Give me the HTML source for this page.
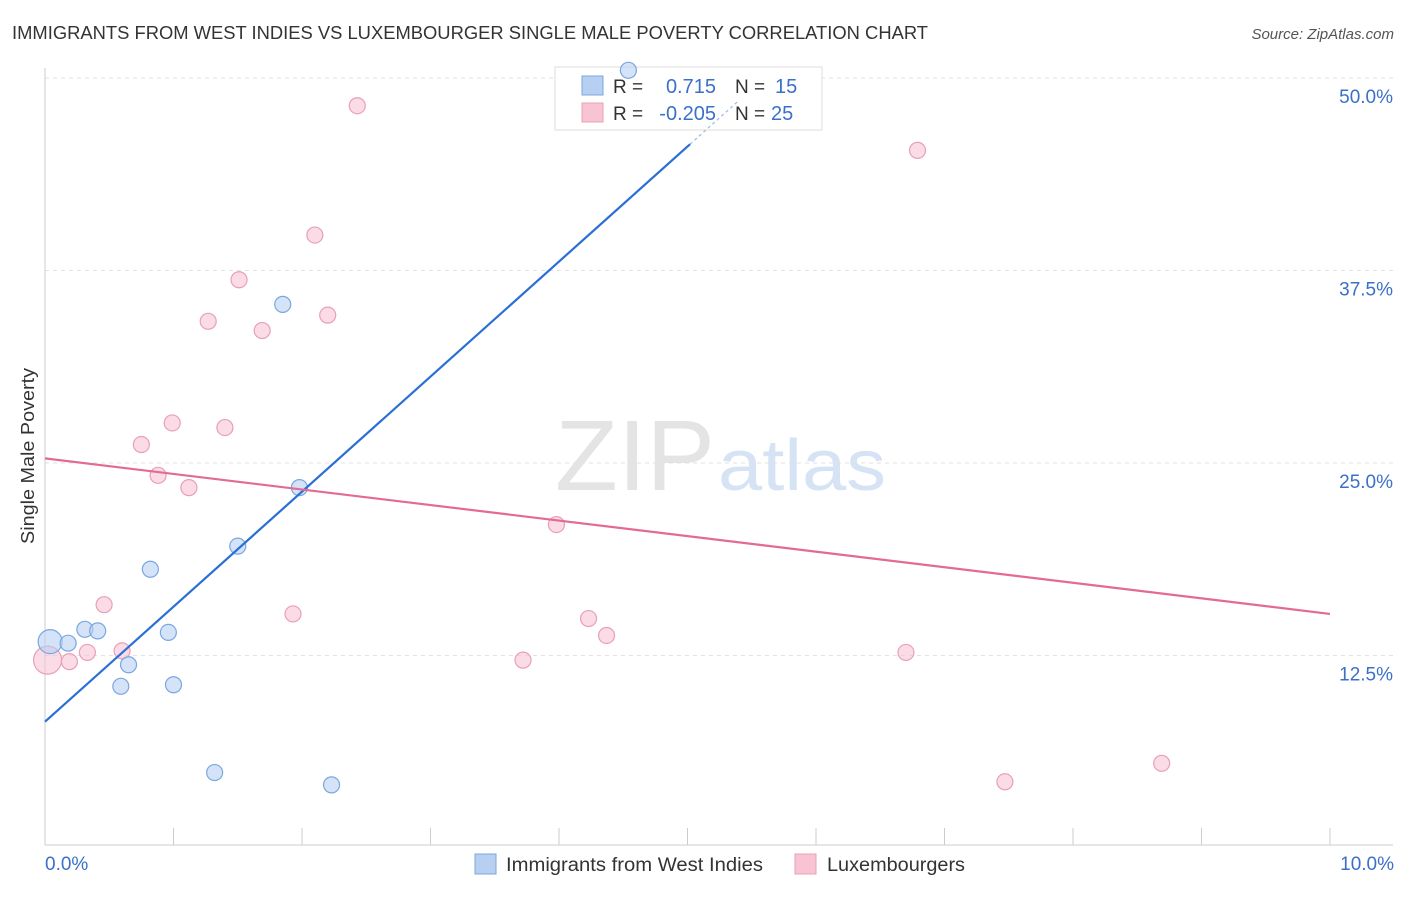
<!DOCTYPE html>
<html><head><meta charset="utf-8"><style>
body{margin:0;background:#fff;font-family:"Liberation Sans",sans-serif;}
svg text{font-family:"Liberation Sans",sans-serif;}
</style></head><body>
<svg id="chart" width="1406" height="892" viewBox="0 0 1406 892" xmlns="http://www.w3.org/2000/svg">
<text x="12" y="39" font-size="18" fill="#333" textLength="916" lengthAdjust="spacingAndGlyphs">IMMIGRANTS FROM WEST INDIES VS LUXEMBOURGER SINGLE MALE POVERTY CORRELATION CHART</text>
<text x="1394" y="39" font-size="15" fill="#555" font-style="italic" text-anchor="end">Source: ZipAtlas.com</text>
<text x="555" y="490" font-size="100" fill="#e4e4e4" font-family="Liberation Serif" textLength="160" lengthAdjust="spacingAndGlyphs">ZIP</text>
<text x="718" y="490" font-size="72" fill="#d6e3f5" textLength="168" lengthAdjust="spacingAndGlyphs">atlas</text>
<g id="grid"></g><g id="axes"></g>
<g>
<rect x="555" y="67" width="267" height="63" fill="#fff" stroke="#ddd"/>
<rect x="582" y="76" width="21" height="19" fill="#b7d0f2" stroke="#7aa7e0"/>
<rect x="582" y="103" width="21" height="19" fill="#f8c3d3" stroke="#eaa0b7"/>
<text x="613" y="93" font-size="19" fill="#333">R =</text><text x="716" y="93" font-size="20" fill="#3a70c8" text-anchor="end">0.715</text>
<text x="735" y="93" font-size="19" fill="#333">N =</text><text x="775" y="93" font-size="20" fill="#3a70c8">15</text>
<text x="613" y="120" font-size="19" fill="#333">R =</text><text x="716" y="120" font-size="20" fill="#3a70c8" text-anchor="end">-0.205</text>
<text x="735" y="120" font-size="19" fill="#333">N =</text><text x="771" y="120" font-size="20" fill="#3a70c8">25</text>
</g>
<g id="marks"></g>
<text transform="translate(34,456) rotate(-90)" font-size="18" fill="#333" text-anchor="middle" textLength="176" lengthAdjust="spacingAndGlyphs">Single Male Poverty</text>
<text x="45" y="870" font-size="19" fill="#3a70c8">0.0%</text>
<text x="1394" y="870" font-size="19" fill="#3a70c8" text-anchor="end">10.0%</text>
<g>
<rect x="475" y="854" width="21" height="20" fill="#b7d0f2" stroke="#7aa7e0"/>
<text x="506" y="871" font-size="19" fill="#333" textLength="257" lengthAdjust="spacingAndGlyphs">Immigrants from West Indies</text>
<rect x="795" y="854" width="21" height="20" fill="#f8c3d3" stroke="#eaa0b7"/>
<text x="827" y="871" font-size="19" fill="#333" textLength="138" lengthAdjust="spacingAndGlyphs">Luxembourgers</text>
</g>
</svg>
<script>
const yTicks=[12.5,25.0,37.5,50.0];
const blueX=[0.04,0.18,0.31,0.41,0.82,0.65,0.59,0.96,1.00,1.50,1.85,1.98,1.32,2.23,4.54];
const blueY=[13.4,13.3,14.2,14.1,18.1,11.9,10.5,14.0,10.6,19.6,35.3,23.4,4.9,4.1,50.5];
const blueSize=[12,8,8,8,8,8,8,8,8,8,8,8,8,8,8];
const pinkX=[0.02,0.19,0.33,0.46,0.60,0.75,0.88,0.99,1.12,1.27,1.40,1.51,1.69,1.93,2.10,2.20,2.43,3.72,3.98,4.23,4.37,6.70,6.79,7.47,8.69];
const pinkY=[12.2,12.1,12.7,15.8,12.8,26.2,24.2,27.6,23.4,34.2,27.3,36.9,33.6,15.2,39.8,34.6,48.2,12.2,21.0,14.9,13.8,12.7,45.3,4.3,5.5];
const pinkSize=[14,8,8,8,8,8,8,8,8,8,8,8,8,8,8,8,8,8,8,8,8,8,8,8,8];
const blueTrend=[8.2,7.47];
const pinkTrend=[25.3,-1.01];
const NS='http://www.w3.org/2000/svg';
const xs=v=>45+v*128.5, ys=v=>848-v*15.4;
function mk(tag,attrs,parent){const e=document.createElementNS(NS,tag);for(const k in attrs)e.setAttribute(k,attrs[k]);parent.appendChild(e);return e;}
const grid=document.getElementById('grid'),axes=document.getElementById('axes'),marks=document.getElementById('marks');
yTicks.forEach(t=>{
 const l=mk('line',{x1:45,x2:1393,y1:ys(t),y2:ys(t),stroke:'#e2e2e2','stroke-dasharray':'4,4'},grid);
 
 
 const tx=mk('text',{x:1393,y:ys(t)+25,'font-size':19,fill:'#3a70c8','text-anchor':'end'},grid);
 tx.textContent=t.toFixed(1)+'%';
 
 
});
const ax=mk('line',{x1:45,x2:1393,y1:845,y2:845,stroke:'#ccc'},axes);


const ay=mk('line',{x1:45,x2:45,y1:68,y2:845,stroke:'#ccc'},axes);


for(let i=0;i<=10;i++){const t=mk('line',{x1:xs(i),x2:xs(i),y1:828,y2:845,stroke:'#ccc'},axes);
 
 }
function pts(X,Y,S,fill,stroke,name,op){X.forEach((x,i)=>{const c=mk('circle',{cx:xs(x),cy:ys(Y[i]),r:S[i],fill:fill,'fill-opacity':op,stroke:stroke,'stroke-width':1.2},marks);
 
 });}
pts(pinkX,pinkY,pinkSize,'#f8c3d3','#e8a0b6','luxembourger-point',0.6);
pts(blueX,blueY,blueSize,'#b7d0f2','#7aa7e0','west-indies-point',0.6);
const bl=mk('line',{x1:xs(0),y1:ys(blueTrend[0]),x2:xs(5.02),y2:ys(blueTrend[0]+blueTrend[1]*5.02),stroke:'#2a6fd6','stroke-width':2.2},marks);


const bd=mk('line',{x1:xs(5.02),y1:ys(blueTrend[0]+blueTrend[1]*5.02),x2:xs(5.4),y2:ys(blueTrend[0]+blueTrend[1]*5.4),stroke:'#9bb8e0','stroke-width':1.2,'stroke-dasharray':'3,3'},marks);


const pl=mk('line',{x1:xs(0),y1:ys(pinkTrend[0]),x2:xs(10),y2:ys(pinkTrend[0]+pinkTrend[1]*10),stroke:'#e36a93','stroke-width':2.2},marks);


</script>
</body></html>
